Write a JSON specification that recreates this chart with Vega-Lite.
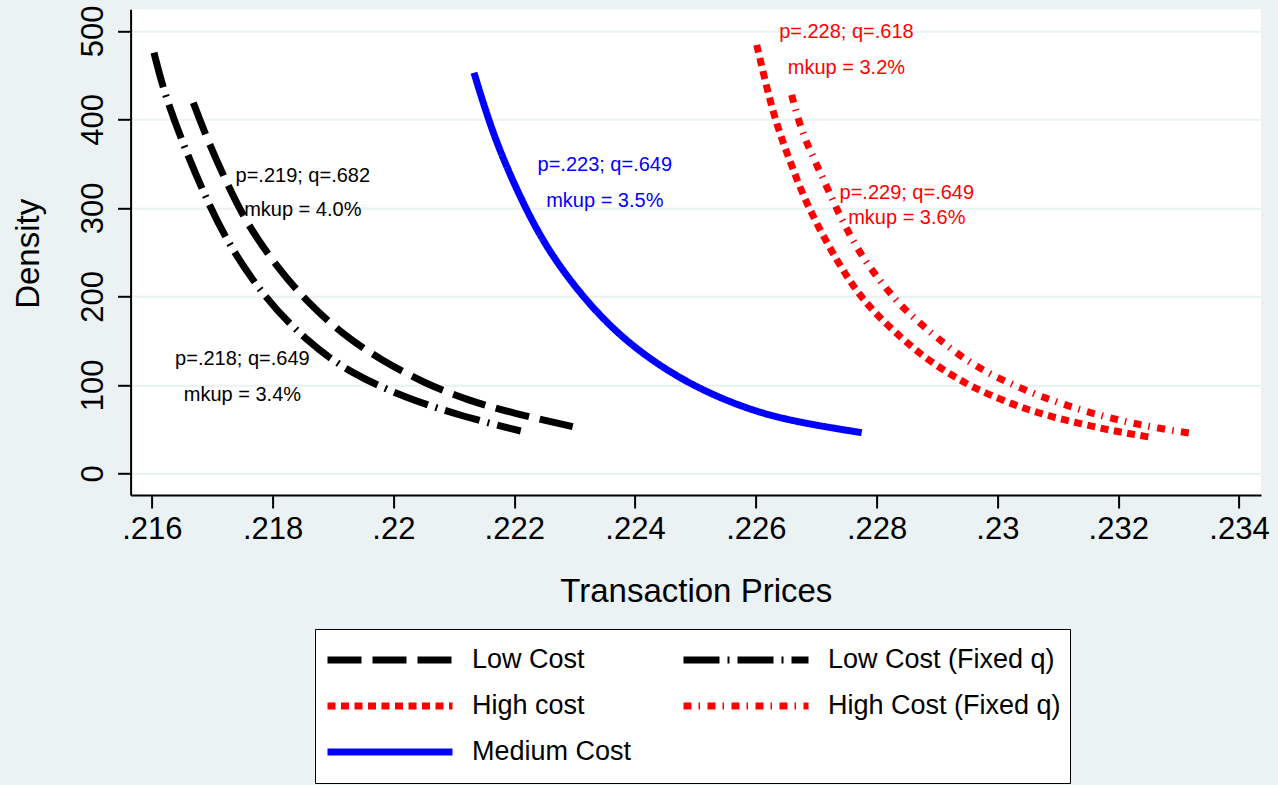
{
  "$schema": "https://vega.github.io/schema/vega-lite/v6.json",
  "autosize": {"type": "none"},
  "width": 1130.4,
  "height": 485.7,
  "padding": {"left": 130.6, "top": 9.3, "right": 17, "bottom": 290},
  "background": "#EAF2F3",
  "config": {
    "font": "Liberation Sans",
    "view": {"fill": "white", "stroke": null},
    "axis": {
      "domainColor": "black", "domainWidth": 2,
      "tickColor": "black", "tickWidth": 2, "tickSize": 13,
      "labelFont": "Liberation Sans", "labelFontSize": 31, "labelColor": "black",
      "titleFont": "Liberation Sans", "titleFontWeight": "normal", "titleColor": "black",
      "gridColor": "#EAF2F3", "gridWidth": 2
    },
    "legend": {
      "orient": "none", "legendX": 184.4, "legendY": 619.7,
      "direction": "horizontal",
      "columns": 2, "padding": 9, "strokeColor": "black", "fillColor": "white",
      "labelFont": "Liberation Sans", "labelFontSize": 27, "labelColor": "black",
      "labelLimit": 400, "labelOffset": 16, "symbolSize": 15625, "symbolType": "stroke",
      "rowPadding": 2, "columnPadding": 48, "clipHeight": 44, "title": null
    }
  },
  "datasets": {
    "curves": [
      {"series": "Low Cost (Fixed q)", "price": 0.216036, "density": 475.5},
      {"series": "Low Cost (Fixed q)", "price": 0.21619, "density": 433.3},
      {"series": "Low Cost (Fixed q)", "price": 0.216522, "density": 371.2},
      {"series": "Low Cost (Fixed q)", "price": 0.216909, "density": 309.0},
      {"series": "Low Cost (Fixed q)", "price": 0.217295, "density": 255.9},
      {"series": "Low Cost (Fixed q)", "price": 0.217874, "density": 198.0},
      {"series": "Low Cost (Fixed q)", "price": 0.218536, "density": 151.1},
      {"series": "Low Cost (Fixed q)", "price": 0.219281, "density": 113.2},
      {"series": "Low Cost (Fixed q)", "price": 0.22022, "density": 85.0},
      {"series": "Low Cost (Fixed q)", "price": 0.221157, "density": 64.2},
      {"series": "Low Cost (Fixed q)", "price": 0.222108, "density": 48.0},
      {"series": "Low Cost", "price": 0.216687, "density": 419.0},
      {"series": "Low Cost", "price": 0.216909, "density": 379.1},
      {"series": "Low Cost", "price": 0.21724, "density": 328.2},
      {"series": "Low Cost", "price": 0.217571, "density": 282.5},
      {"series": "Low Cost", "price": 0.218068, "density": 233.7},
      {"series": "Low Cost", "price": 0.218565, "density": 194.1},
      {"series": "Low Cost", "price": 0.219171, "density": 156.5},
      {"series": "Low Cost", "price": 0.219778, "density": 129.0},
      {"series": "Low Cost", "price": 0.220495, "density": 102.5},
      {"series": "Low Cost", "price": 0.221214, "density": 83.1},
      {"series": "Low Cost", "price": 0.221985, "density": 68.0},
      {"series": "Low Cost", "price": 0.222969, "density": 52.9},
      {"series": "Medium Cost", "price": 0.221334, "density": 452.9},
      {"series": "Medium Cost", "price": 0.221488, "density": 418.3},
      {"series": "Medium Cost", "price": 0.22171, "density": 373.1},
      {"series": "Medium Cost", "price": 0.222041, "density": 320.3},
      {"series": "Medium Cost", "price": 0.222427, "density": 267.6},
      {"series": "Medium Cost", "price": 0.222869, "density": 222.4},
      {"series": "Medium Cost", "price": 0.223421, "density": 177.2},
      {"series": "Medium Cost", "price": 0.224028, "density": 139.5},
      {"series": "Medium Cost", "price": 0.2248, "density": 104.5},
      {"series": "Medium Cost", "price": 0.225628, "density": 78.5},
      {"series": "Medium Cost", "price": 0.226455, "density": 60.5},
      {"series": "Medium Cost", "price": 0.227753, "density": 46.1},
      {"series": "High cost", "price": 0.226015, "density": 484.2},
      {"series": "High cost", "price": 0.226152, "density": 444.6},
      {"series": "High cost", "price": 0.22629, "density": 407.0},
      {"series": "High cost", "price": 0.226455, "density": 373.1},
      {"series": "High cost", "price": 0.226621, "density": 342.9},
      {"series": "High cost", "price": 0.226815, "density": 309.0},
      {"series": "High cost", "price": 0.227063, "density": 275.1},
      {"series": "High cost", "price": 0.227339, "density": 241.2},
      {"series": "High cost", "price": 0.227614, "density": 211.1},
      {"series": "High cost", "price": 0.227945, "density": 182.7},
      {"series": "High cost", "price": 0.228416, "density": 152.8},
      {"series": "High cost", "price": 0.228773, "density": 132.3},
      {"series": "High cost", "price": 0.229187, "density": 113.2},
      {"series": "High cost", "price": 0.229575, "density": 98.1},
      {"series": "High cost", "price": 0.230043, "density": 83.8},
      {"series": "High cost", "price": 0.230485, "density": 72.5},
      {"series": "High cost", "price": 0.230926, "density": 63.6},
      {"series": "High cost", "price": 0.231396, "density": 55.9},
      {"series": "High cost", "price": 0.231864, "density": 48.9},
      {"series": "High cost", "price": 0.232333, "density": 43.2},
      {"series": "High cost", "price": 0.232555, "density": 40.8},
      {"series": "High Cost (Fixed q)", "price": 0.226593, "density": 427.7},
      {"series": "High Cost (Fixed q)", "price": 0.226704, "density": 399.4},
      {"series": "High Cost (Fixed q)", "price": 0.226843, "density": 373.1},
      {"series": "High Cost (Fixed q)", "price": 0.227009, "density": 348.6},
      {"series": "High Cost (Fixed q)", "price": 0.227174, "density": 324.1},
      {"series": "High Cost (Fixed q)", "price": 0.227339, "density": 299.0},
      {"series": "High Cost (Fixed q)", "price": 0.227505, "density": 276.1},
      {"series": "High Cost (Fixed q)", "price": 0.227697, "density": 252.5},
      {"series": "High Cost (Fixed q)", "price": 0.227919, "density": 229.9},
      {"series": "High Cost (Fixed q)", "price": 0.228167, "density": 208.3},
      {"series": "High Cost (Fixed q)", "price": 0.228416, "density": 188.5},
      {"series": "High Cost (Fixed q)", "price": 0.228719, "density": 169.7},
      {"series": "High Cost (Fixed q)", "price": 0.228995, "density": 153.8},
      {"series": "High Cost (Fixed q)", "price": 0.229326, "density": 135.8},
      {"series": "High Cost (Fixed q)", "price": 0.229657, "density": 120.7},
      {"series": "High Cost (Fixed q)", "price": 0.230015, "density": 107.7},
      {"series": "High Cost (Fixed q)", "price": 0.230374, "density": 96.9},
      {"series": "High Cost (Fixed q)", "price": 0.230733, "density": 86.8},
      {"series": "High Cost (Fixed q)", "price": 0.231091, "density": 78.2},
      {"series": "High Cost (Fixed q)", "price": 0.231478, "density": 69.8},
      {"series": "High Cost (Fixed q)", "price": 0.231864, "density": 62.8},
      {"series": "High Cost (Fixed q)", "price": 0.23225, "density": 56.7},
      {"series": "High Cost (Fixed q)", "price": 0.232637, "density": 51.5},
      {"series": "High Cost (Fixed q)", "price": 0.233051, "density": 46.9},
      {"series": "High Cost (Fixed q)", "price": 0.233271, "density": 44.9}
    ],
    "notes": [
      {"series": "Low Cost", "price": 0.2185, "density": 336.5, "text": "p=.219; q=.682"},
      {"series": "Low Cost", "price": 0.2185, "density": 298, "text": "mkup = 4.0%"},
      {"series": "Low Cost (Fixed q)", "price": 0.2175, "density": 129.4, "text": "p=.218; q=.649"},
      {"series": "Low Cost (Fixed q)", "price": 0.2175, "density": 88.7, "text": "mkup = 3.4%"},
      {"series": "Medium Cost", "price": 0.2235, "density": 349, "text": "p=.223; q=.649"},
      {"series": "Medium Cost", "price": 0.2235, "density": 308.2, "text": "mkup = 3.5%"},
      {"series": "High cost", "price": 0.2275, "density": 498.5, "text": "p=.228; q=.618"},
      {"series": "High cost", "price": 0.2275, "density": 458.2, "text": "mkup = 3.2%"},
      {"series": "High Cost (Fixed q)", "price": 0.2285, "density": 316.6, "text": "p=.229; q=.649"},
      {"series": "High Cost (Fixed q)", "price": 0.2285, "density": 288.7, "text": "mkup = 3.6%"}
    ]
  },
  "layer": [
    {
      "data": {"name": "curves"},
      "mark": {"type": "line", "interpolate": "basis", "strokeCap": "butt"},
      "encoding": {
        "x": {
          "field": "price", "type": "quantitative",
          "scale": {"domain": [0.215649, 0.234364], "nice": false, "zero": false},
          "axis": {
            "values": [0.216, 0.218, 0.22, 0.222, 0.224, 0.226, 0.228, 0.23, 0.232, 0.234],
            "labelExpr": "replace(format(datum.value, '.3~f'), '0.', '.')",
            "grid": false, "labelPadding": 6, "labelBaseline": "top",
            "title": "Transaction Prices", "titleFontSize": 33,
            "titleBaseline": "alphabetic", "titleY": 106
          }
        },
        "y": {
          "field": "density", "type": "quantitative",
          "scale": {"domain": [-24.3, 524.5], "nice": false, "zero": false},
          "axis": {
            "values": [0, 100, 200, 300, 400, 500],
            "grid": true, "labelAngle": -90, "labelAlign": "center",
            "labelBaseline": "alphabetic", "labelPadding": 15,
            "title": "Density", "titleFontSize": 33,
            "titleAngle": -90, "titleAlign": "center", "titleBaseline": "alphabetic",
            "titleX": -92.6, "titleY": 244
          }
        },
        "color": {
          "field": "series", "type": "nominal",
          "scale": {
            "domain": ["Low Cost", "Low Cost (Fixed q)", "High cost", "High Cost (Fixed q)", "Medium Cost"],
            "range": ["#000000", "#000000", "#FF0000", "#FF0000", "#0000FF"]
          }
        },
        "strokeDash": {
          "field": "series", "type": "nominal",
          "scale": {
            "domain": ["Low Cost", "Low Cost (Fixed q)", "High cost", "High Cost (Fixed q)", "Medium Cost"],
            "range": [[34, 11], [36, 8, 2, 8], [8, 5.5], [8, 7, 1.5, 7.5], [1, 0]]
          }
        },
        "strokeWidth": {
          "field": "series", "type": "nominal",
          "scale": {
            "domain": ["Low Cost", "Low Cost (Fixed q)", "High cost", "High Cost (Fixed q)", "Medium Cost"],
            "range": [7, 7, 7.5, 7.5, 5]
          }
        }
      }
    },
    {
      "data": {"name": "notes"},
      "mark": {"type": "text", "fontSize": 20, "align": "center", "baseline": "middle", "font": "Liberation Sans"},
      "encoding": {
        "x": {"field": "price", "type": "quantitative"},
        "y": {"field": "density", "type": "quantitative"},
        "text": {"field": "text"},
        "color": {
          "condition": [
            {"test": "indexof(datum.series, 'High') >= 0", "value": "#FF0000"},
            {"test": "datum.series === 'Medium Cost'", "value": "#0000FF"}
          ],
          "value": "#000000"
        }
      }
    }
  ]
}
